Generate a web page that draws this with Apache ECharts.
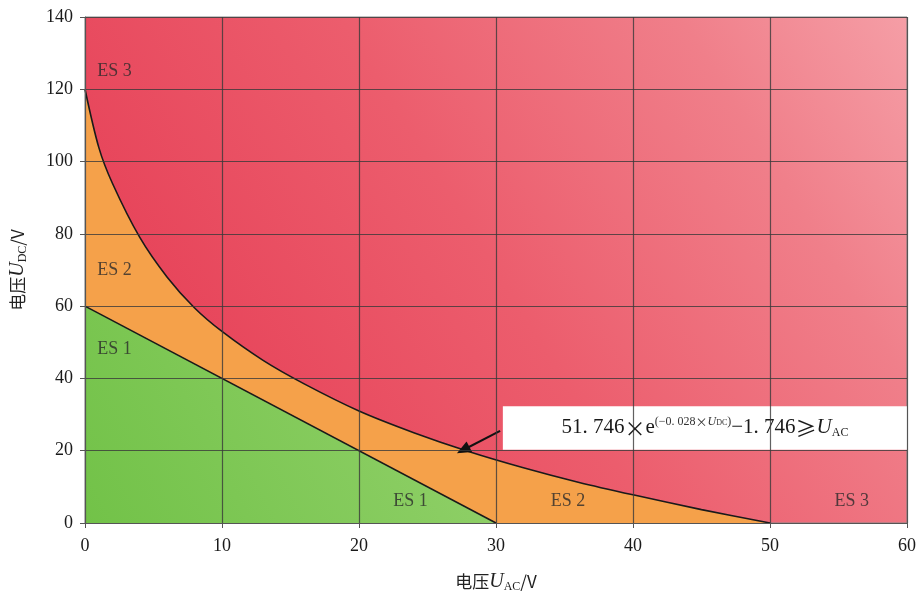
<!DOCTYPE html>
<html>
<head>
<meta charset="utf-8">
<script src="https://cdn.jsdelivr.net/npm/echarts@6/dist/echarts.min.js"></script>
<style>
  html, body { margin: 0; padding: 0; background: #fff; }
  #chart { width: 919px; height: 598px; }
</style>
</head>
<body>
<div id="chart"></div>
<script>
// boundary ES2 / ES3 (U_AC, U_DC)
const curveAC = [0, 1, 2, 4, 6, 8, 10, 13, 16, 20, 24, 28, 32, 36, 40, 45, 50];
const curveDC = [120, 104, 94, 79, 68, 59.5, 53, 45, 38.5, 31, 25, 19.8, 15.3, 11.3, 7.8, 3.7, 0];

// boundary ES1 / ES2
const lineAC = [0, 30];
const lineDC = [60, 0];

// region labels
const regionNames = ['ES 3', 'ES 2', 'ES 1', 'ES 1', 'ES 2', 'ES 3'];
const regionAC = [0.9, 0.9, 0.9, 22.5, 34, 54.7];
const regionDC = [125, 70, 48, 6, 6, 6];

const xTicks = [0, 10, 20, 30, 40, 50, 60];
const yTicks = [0, 20, 40, 60, 80, 100, 120, 140];

const serif = '"Liberation Serif", "DejaVu Serif", serif';
const cjk = '"Noto Sans CJK SC", sans-serif';

const chart = echarts.init( document.getElementById( 'chart' ), null, { renderer: 'canvas' } );

const axisCommon = {
	type: 'value',
	z: 10,
	axisLine: { show: true, onZero: false, lineStyle: { color: '#555', width: 1 } },
	axisTick: { show: true, length: 5, lineStyle: { color: '#555' } },
	splitLine: { show: true, lineStyle: { color: '#3a3a3a', width: 1.2, opacity: 0.8 } },
	axisLabel: { color: '#1a1a1a', fontFamily: serif, fontSize: 18 }
};

const nameRich = {
	c: { fontFamily: cjk, fontSize: 17, color: '#222' },
	i: { fontFamily: serif, fontStyle: 'italic', fontSize: 20, color: '#222' },
	s: { fontFamily: serif, fontSize: 12, color: '#222', padding: [ 10, 0, 0, 0 ] }
};

chart.setOption( {
	animation: false,
	grid: {
		left: 82, right: 11, top: 17, bottom: 74,
		show: true,
		borderColor: '#888',
		borderWidth: 1,
		backgroundColor: new echarts.graphic.LinearGradient( 0, 1, 1, 0, [
			{ offset: 0, color: '#e4364f' },
			{ offset: 0.5, color: '#ec5d6d' },
			{ offset: 0.8, color: '#f07f8a' },
			{ offset: 1, color: '#f59ea6' }
		] )
	},
	xAxis: Object.assign( {}, axisCommon, {
		min: xTicks[ 0 ], max: xTicks[ xTicks.length - 1 ], interval: 10,
		axisLabel: Object.assign( {}, axisCommon.axisLabel, { margin: 14 } ),
		name: '{c|电压}{i|U}{s|AC}{c|/V}',
		nameLocation: 'middle',
		nameGap: 48,
		nameTextStyle: { rich: nameRich }
	} ),
	yAxis: Object.assign( {}, axisCommon, {
		min: yTicks[ 0 ], max: yTicks[ yTicks.length - 1 ], interval: 20,
		axisLabel: Object.assign( {}, axisCommon.axisLabel, { margin: 12 } ),
		name: '{c|电压}{i|U}{s|DC}{c|/V}',
		nameLocation: 'middle',
		nameGap: 56,
		nameTextStyle: { rich: nameRich }
	} ),
	series: [
		{
			type: 'line',
			z: 2,
			smooth: 0.3,
			symbol: 'none',
			data: curveAC.map( ( x, i ) => [ x, curveDC[ i ] ] ),
			lineStyle: { color: '#1a1a1a', width: 1.6 },
			areaStyle: { color: '#f5a14a', opacity: 1 }
		},
		{
			type: 'line',
			z: 3,
			symbol: 'none',
			data: lineAC.map( ( x, i ) => [ x, lineDC[ i ] ] ),
			lineStyle: { color: '#1a1a1a', width: 1.6 },
			areaStyle: {
				opacity: 1,
				color: new echarts.graphic.LinearGradient( 0, 1, 1, 0, [
					{ offset: 0, color: '#72c248' },
					{ offset: 1, color: '#95d26e' }
				] )
			}
		},
		{
			type: 'scatter',
			z: 12,
			symbolSize: 0,
			data: regionAC.map( ( x, i ) => [ x, regionDC[ i ], regionNames[ i ] ] ),
			label: {
				show: true,
				position: 'right',
				distance: 0,
				formatter: p => p.data[ 2 ],
				fontFamily: serif,
				fontSize: 18,
				color: '#2a2a2a'
			}
		},
		{
			// annotation box with the boundary formula
			type: 'line',
			z: 20,
			data: [],
			markArea: {
				silent: true,
				itemStyle: { color: '#ffffff', opacity: 1 },
				label: {
					show: true,
					position: 'inside',
					offset: [ 0, 0 ],
					formatter: '{m|51. 746}{x|×}{m|e}{p|(−0. 028}{px|×}{pi|U}{ps|DC}{p|)}{m|−1. 746}{x|≥}{i|U}{s|AC}',
					rich: {
						m: { fontFamily: serif, fontSize: 21, color: '#1a1a1a' },
						x: { fontFamily: cjk, fontSize: 21, color: '#1a1a1a' },
						i: { fontFamily: serif, fontStyle: 'italic', fontSize: 21, color: '#1a1a1a' },
						s: { fontFamily: serif, fontSize: 12, color: '#1a1a1a', padding: [ 10, 0, 0, 0 ] },
						p: { fontFamily: serif, fontSize: 12, color: '#333', padding: [ 0, 0, 12, 0 ] },
						px: { fontFamily: cjk, fontSize: 12, color: '#333', padding: [ 0, 0, 12, 0 ] },
						pi: { fontFamily: serif, fontStyle: 'italic', fontSize: 12, color: '#333', padding: [ 0, 0, 12, 0 ] },
						ps: { fontFamily: serif, fontSize: 8, color: '#333', padding: [ 0, 0, 10, 0 ] }
					}
				},
				data: [ [ { coord: [ 30.5, 32.3 ] }, { coord: [ 60, 20.3 ] } ] ]
			},
			markLine: {
				silent: true,
				symbol: [ 'none', 'triangle' ],
				symbolSize: [ 12, 14 ],
				label: { show: false },
				lineStyle: { color: '#111', width: 2, type: 'solid' },
				data: [ [ { coord: [ 30.3, 25.5 ] }, { coord: [ 27.6, 20.2 ] } ] ]
			}
		}
	]
} );
</script>
</body>
</html>
